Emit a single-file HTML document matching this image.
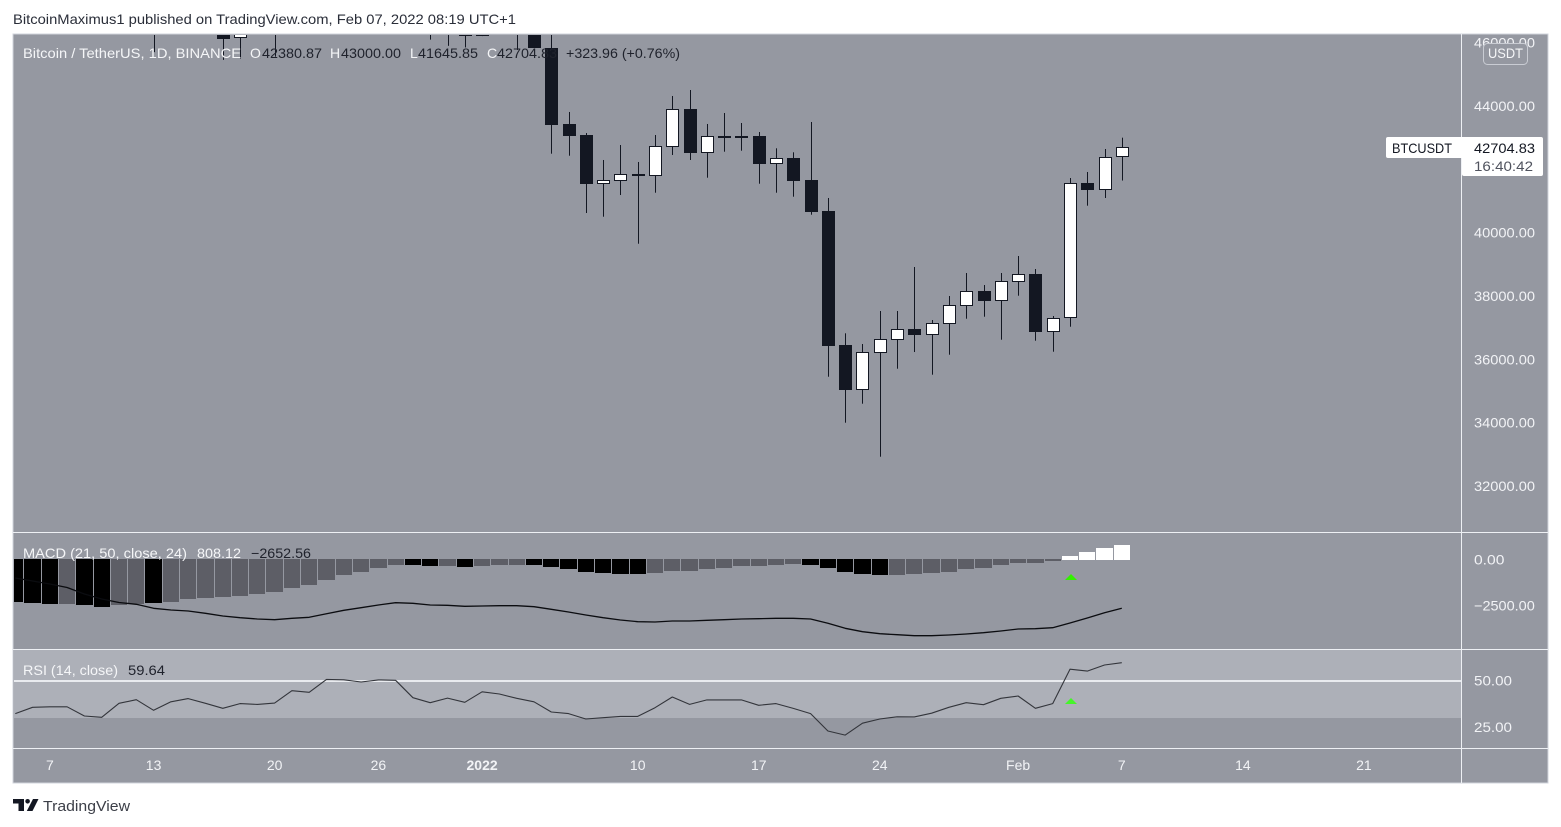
<!DOCTYPE html>
<html lang="en">
<head>
<meta charset="utf-8">
<title>BTCUSDT chart</title>
<style>
html,body{margin:0;padding:0;background:#fff;width:1561px;height:827px;overflow:hidden}
svg{display:block;font-family:"Liberation Sans",sans-serif}
</style>
</head>
<body>
<svg id="chart" xmlns="http://www.w3.org/2000/svg" width="1561" height="827" viewBox="0 0 1561 827">
  <defs>
    <clipPath id="price-clip"><rect x="14" y="35" width="1447" height="497"/></clipPath>
    <clipPath id="macd-clip"><rect x="14" y="533" width="1447" height="116"/></clipPath>
    <clipPath id="rsi-clip"><rect x="14" y="650" width="1447" height="98"/></clipPath>
    <clipPath id="scale-clip"><rect x="1462" y="35" width="86" height="497"/></clipPath>
  </defs>

  <text x="13" y="24" font-size="14" fill="#2a2e39" textLength="503" lengthAdjust="spacingAndGlyphs">BitcoinMaximus1 published on TradingView.com, Feb 07, 2022 08:19 UTC+1</text>

  <rect x="13" y="34" width="1535" height="749" fill="#9598a1" stroke="#d1d4dc" stroke-width="1"/>
  <rect id="rsi-band" x="14" y="650" width="1447" height="68" fill="#adb0b8"/>
  <rect id="rsi-mid" x="14" y="679" width="1447" height="2" fill="#e9ebef"/>

  <g id="price-ticks" clip-path="url(#scale-clip)"></g>
  <g id="candles" clip-path="url(#price-clip)"></g>
  <g id="macd-hist" clip-path="url(#macd-clip)"></g>
  <g id="macd-line-wrap" clip-path="url(#macd-clip)"></g>
  <g id="rsi-line-wrap" clip-path="url(#rsi-clip)"></g>
  <g id="macd-ticks"></g>
  <g id="rsi-ticks"></g>
  <g id="time-ticks"></g>

  <rect x="13" y="532" width="1535" height="1" fill="#eef0f4"/>
  <rect x="13" y="649" width="1535" height="1" fill="#eef0f4"/>
  <rect x="13" y="748" width="1535" height="1" fill="#eef0f4"/>
  <rect x="1461" y="34" width="1" height="749" fill="#eef0f4"/>

  <polygon points="1071,574 1077,580 1065,580" fill="#33f000"/>
  <polygon points="1071,698 1077,704 1065,704" fill="#45f52a"/>

  <g font-size="14">
    <text x="23" y="58" fill="#f5f6f8" textLength="218" lengthAdjust="spacingAndGlyphs">Bitcoin / TetherUS, 1D, BINANCE</text>
    <text x="250" y="58" fill="#f5f6f8">O</text>
    <text x="262" y="58" fill="#1f222c" textLength="60" lengthAdjust="spacingAndGlyphs">42380.87</text>
    <text x="330" y="58" fill="#f5f6f8">H</text>
    <text x="341" y="58" fill="#1f222c" textLength="60" lengthAdjust="spacingAndGlyphs">43000.00</text>
    <text x="410" y="58" fill="#f5f6f8">L</text>
    <text x="418" y="58" fill="#1f222c" textLength="60" lengthAdjust="spacingAndGlyphs">41645.85</text>
    <text x="487" y="58" fill="#f5f6f8">C</text>
    <text x="497" y="58" fill="#1f222c" textLength="60" lengthAdjust="spacingAndGlyphs">42704.83</text>
    <text x="566" y="58" fill="#1f222c" textLength="114" lengthAdjust="spacingAndGlyphs">+323.96 (+0.76%)</text>
  </g>

  <g font-size="14">
    <text x="23" y="558" fill="#f5f6f8" textLength="164" lengthAdjust="spacingAndGlyphs">MACD (21, 50, close, 24)</text>
    <text x="197" y="558" fill="#f5f6f8" textLength="44" lengthAdjust="spacingAndGlyphs">808.12</text>
    <text x="251" y="558" fill="#1f222c" textLength="60" lengthAdjust="spacingAndGlyphs">−2652.56</text>
  </g>

  <g font-size="14">
    <text x="23" y="675" fill="#f5f6f8" textLength="95" lengthAdjust="spacingAndGlyphs">RSI (14, close)</text>
    <text x="128" y="675" fill="#1f222c" textLength="37" lengthAdjust="spacingAndGlyphs">59.64</text>
  </g>

  <g>
    <rect x="1483.5" y="43.5" width="44" height="21" rx="4" fill="#9598a1" stroke="#c9ccd3"/>
    <text x="1488" y="58" font-size="14" fill="#f5f6f8" textLength="35" lengthAdjust="spacingAndGlyphs">USDT</text>
  </g>

  <g>
    <rect x="1386" y="137" width="80" height="21" rx="2" fill="#fff"/>
    <rect x="1462" y="137" width="81" height="39" rx="2" fill="#fff"/>
    <rect x="1461" y="158" width="1" height="18" fill="#eef0f4"/>
    <text x="1392" y="153" font-size="14" fill="#131722" textLength="60" lengthAdjust="spacingAndGlyphs">BTCUSDT</text>
    <text x="1474" y="153" font-size="14" fill="#131722" textLength="61" lengthAdjust="spacingAndGlyphs">42704.83</text>
    <text x="1474" y="171" font-size="14" fill="#50535e" textLength="59" lengthAdjust="spacingAndGlyphs">16:40:42</text>
  </g>

  <g>
    <path d="M13 799H24V811H18.5V803.5H13Z M33 799H38.5L32.5 811H26.8Z" fill="#131722"/>
    <circle cx="27.6" cy="801.3" r="2.3" fill="#131722"/>
    <text x="43" y="811" font-size="15" fill="#3c3f48" textLength="87" lengthAdjust="spacingAndGlyphs">TradingView</text>
  </g>
</svg>

<script>
// ---- chart data ----
const firstDate = '2021-12-05';
const opens = [49152,49396,50441,50588,50471,47535,47140,49389,50053,46702,48336,48864,47632,46133,46834,46681,46914,48887,48588,50838,50821,50428,50802,50718,47543,46470,47120,46216,47722,47286,46446,45832,43431,43097,41546,41641,41837,41799,42715,43905,42525,43068,43068,43053,42178,42348,41663,40684,36452,35041,36209,36620,36958,36778,37125,37693,38158,37851,38451,38695,36872,37296,41568,41363,42380.87];
const highs = [49700,50891,51936,51200,50797,50125,49485,50777,50189,48700,49500,49436,48004,47395,48300,47537,49329,49576,51375,51864,51156,51280,52088,50718,48139,47900,48548,47954,47990,47570,47505,47070,43811,43147,42295,42768,42232,43084,44316,44505,43432,43779,43463,43179,42664,42538,43495,41095,36822,36484,37526,37526,38916,37242,38000,38726,38347,38726,39263,38852,37368,41726,41916,42642,43000];
const lows = [47727,47100,50039,48600,47320,46852,46751,48638,45700,46290,46547,47511,45456,45500,46406,45558,46630,48421,47920,50450,50235,49412,50449,47313,46096,45900,45850,46208,46654,45770,45832,42494,42430,40621,40504,41189,39651,41262,42453,42295,41736,42557,42588,41546,41262,41136,40567,35451,33999,34599,32925,35704,36231,35515,36146,37283,37346,36620,38009,36588,36241,37030,40852,41095,41645.85];
const closes = [49396,50441,50588,50471,47545,47140,49389,50053,46702,48343,48864,47632,46131,46834,46681,46914,48889,48588,50838,50821,50429,50801,50718,47543,46464,47120,46216,47722,47286,46446,45832,43400,43062,41546,41654,41843,41789,42727,43896,42525,43043,43037,43037,42178,42348,41641,40653,36430,35041,36222,36632,36948,36768,37138,37706,38148,37851,38464,38685,36872,37296,41568,41363,42389,42704.83];
const histValues = [-2294,-2348,-2402,-2402,-2457,-2565,-2457,-2402,-2348,-2294,-2147,-2092,-2038,-1967,-1859,-1766,-1533,-1386,-1114,-826,-679,-462,-299,-299,-337,-337,-391,-337,-299,-299,-299,-391,-516,-679,-734,-788,-788,-734,-625,-625,-516,-462,-353,-353,-299,-245,-299,-462,-679,-788,-842,-842,-788,-734,-679,-516,-462,-299,-190,-190,-82,190,408,625,808.12];
const histFalling = [1,1,1,0,1,1,0,0,1,0,0,0,0,0,0,0,0,0,0,0,0,0,0,1,1,0,1,0,0,0,1,1,1,1,1,1,1,0,0,0,0,0,0,0,0,0,1,1,1,1,1,0,0,0,0,0,0,0,0,0,0,0,0,0,0];
const macdValues = [-1005,-1169,-1332,-1522,-1875,-2147,-2337,-2435,-2652,-2745,-2799,-2924,-3071,-3163,-3234,-3272,-3196,-3141,-2946,-2761,-2620,-2473,-2348,-2381,-2473,-2489,-2544,-2527,-2511,-2511,-2565,-2707,-2853,-3016,-3163,-3288,-3381,-3397,-3343,-3343,-3304,-3272,-3234,-3217,-3196,-3196,-3234,-3468,-3739,-3924,-4033,-4087,-4141,-4141,-4103,-4049,-3978,-3886,-3777,-3761,-3707,-3451,-3179,-2891,-2652.56];
const rsiValues = [32.1,35.5,35.8,35.8,30.8,30.1,37.7,39.6,33.9,38.5,40.2,37.7,35,37.5,37.1,37.8,44.5,43.6,50.6,50.4,49.2,50.3,50.1,40.7,38,40.5,38.2,43.9,42.7,40.4,38.5,33,32.1,29.2,29.9,30.6,30.6,35.3,41.1,37.1,39.5,39.5,39.5,36.6,37.5,34.9,32.1,22.7,20.5,26.9,29.2,30.4,30.3,32.3,35.5,38,36.9,40.4,41.6,35,37.5,56.1,55.1,58.4,59.64];
const priceTicks = [46000,44000,42000,40000,38000,36000,34000,32000];
const macdTicks = [0,-2500];
const rsiTicks = [50,25];
const rsiBand = [30,70];
const rsiMiddle = 50;
const timeTickDates = ['2021-12-07','2021-12-13','2021-12-20','2021-12-26','2022-01-01','2022-01-10','2022-01-17','2022-01-24','2022-02-01','2022-02-07','2022-02-14','2022-02-21'];
const timeTickLabels = ['7','13','20','26','2022','10','17','24','Feb','7','14','21'];

// ---- axis functions ----
const NS = 'http://www.w3.org/2000/svg';
const xAt = i => 15.27 + 17.29 * i;
const yPrice = p => 106 + (44000 - p) * 0.031667;
const yMacd = v => 559.5 - v * 0.0184;
const yRsi = v => 680.5 + (50 - v) * 1.85;
const dayIndex = d => Math.round((Date.parse(d + 'T00:00:00Z') - Date.parse(firstDate + 'T00:00:00Z')) / 86400000);
const DARK = '#131722';

function make(tag, parent, props) {
  const el = document.createElementNS(NS, tag);
  for (const k in props) el.setAttribute(k, props[k]);
  parent.appendChild(el);
  return el;
}

// ---- candles ----
const candleGroup = document.getElementById('candles');
closes.forEach((c, i) => {
  const o = opens[i];
  const left = Math.round(xAt(i));
  const wick = make('rect', candleGroup, {x: left, y: yPrice(highs[i]), width: 1, height: yPrice(lows[i]) - yPrice(highs[i]), fill: DARK});
  
  
  const up = c >= o;
  const top = Math.round(yPrice(Math.max(o, c)));
  const bottom = Math.max(Math.round(yPrice(Math.min(o, c))), top + 2);
  if (up) {
    const body = make('rect', candleGroup, {x: left - 5.5, y: top + 0.5, width: 12, height: Math.max(bottom - top - 1, 1), fill: '#ffffff', stroke: DARK, 'stroke-width': 1});
    
    
  } else {
    const body = make('rect', candleGroup, {x: left - 6, y: top, width: 13, height: bottom - top, fill: DARK});
    
    
  }
});

// ---- MACD histogram ----
const histGroup = document.getElementById('macd-hist');
histValues.forEach((v, i) => {
  const cx = xAt(i);
  const left = Math.floor(cx - 8.645) + 1;
  const right = Math.floor(cx + 8.645);
  const y1 = Math.round(yMacd(v));
  const top = v > 0 ? y1 : 559;
  const bottom = v > 0 ? 560 : y1;
  const fill = v > 0 ? '#ffffff' : (histFalling[i] ? '#000000' : '#5d5e66');
  const bar = make('rect', histGroup, {x: left, y: top, width: right - left, height: Math.max(bottom - top, 1), fill: fill});
  
  
});

// ---- lines ----
const macdPath = make('polyline', document.getElementById('macd-line-wrap'), {
  points: macdValues.map((v, i) => xAt(i).toFixed(1) + ',' + yMacd(v).toFixed(1)).join(' '),
  fill: 'none', stroke: '#0b0c10', 'stroke-width': 1.3, 'stroke-linejoin': 'round'
});



const rsiPath = make('polyline', document.getElementById('rsi-line-wrap'), {
  points: rsiValues.map((v, i) => xAt(i).toFixed(1) + ',' + yRsi(v).toFixed(1)).join(' '),
  fill: 'none', stroke: '#33353b', 'stroke-width': 1.1, 'stroke-linejoin': 'round'
});



// ---- RSI furniture ----
const band = document.getElementById('rsi-band');
band.setAttribute('y', 650);
band.setAttribute('height', Math.round(yRsi(rsiBand[0])) - 650);
document.getElementById('rsi-mid').setAttribute('y', Math.round(yRsi(rsiMiddle)) - 1);

// ---- tick labels ----
const priceTickGroup = document.getElementById('price-ticks');
priceTicks.forEach(p => {
  const t = make('text', priceTickGroup, {x: 1474, y: yPrice(p) + 5, 'font-size': 14, fill: '#f2f3f6', textLength: 61, lengthAdjust: 'spacingAndGlyphs'});
  
  
  t.textContent = p.toFixed(2);
});
const macdTickGroup = document.getElementById('macd-ticks');
macdTicks.forEach(v => {
  const label = (v < 0 ? '−' : '') + Math.abs(v).toFixed(2);
  const t = make('text', macdTickGroup, {x: 1474, y: yMacd(v) + 5, 'font-size': 14, fill: '#f2f3f6', textLength: label.length * 7.6, lengthAdjust: 'spacingAndGlyphs'});
  
  
  t.textContent = label;
});
const rsiTickGroup = document.getElementById('rsi-ticks');
rsiTicks.forEach(v => {
  const label = v.toFixed(2);
  const t = make('text', rsiTickGroup, {x: 1474, y: yRsi(v) + 5, 'font-size': 14, fill: '#f2f3f6', textLength: label.length * 7.6, lengthAdjust: 'spacingAndGlyphs'});
  
  
  t.textContent = label;
});
const timeTickGroup = document.getElementById('time-ticks');
timeTickLabels.forEach((label, k) => {
  const major = label === '2022';
  const t = make('text', timeTickGroup, {x: xAt(dayIndex(timeTickDates[k])), y: 770, 'font-size': 14, 'text-anchor': 'middle', fill: '#f2f3f6', 'font-weight': major ? 'bold' : 'normal'});
  
  
  t.textContent = label;
});
</script>
</body>
</html>
